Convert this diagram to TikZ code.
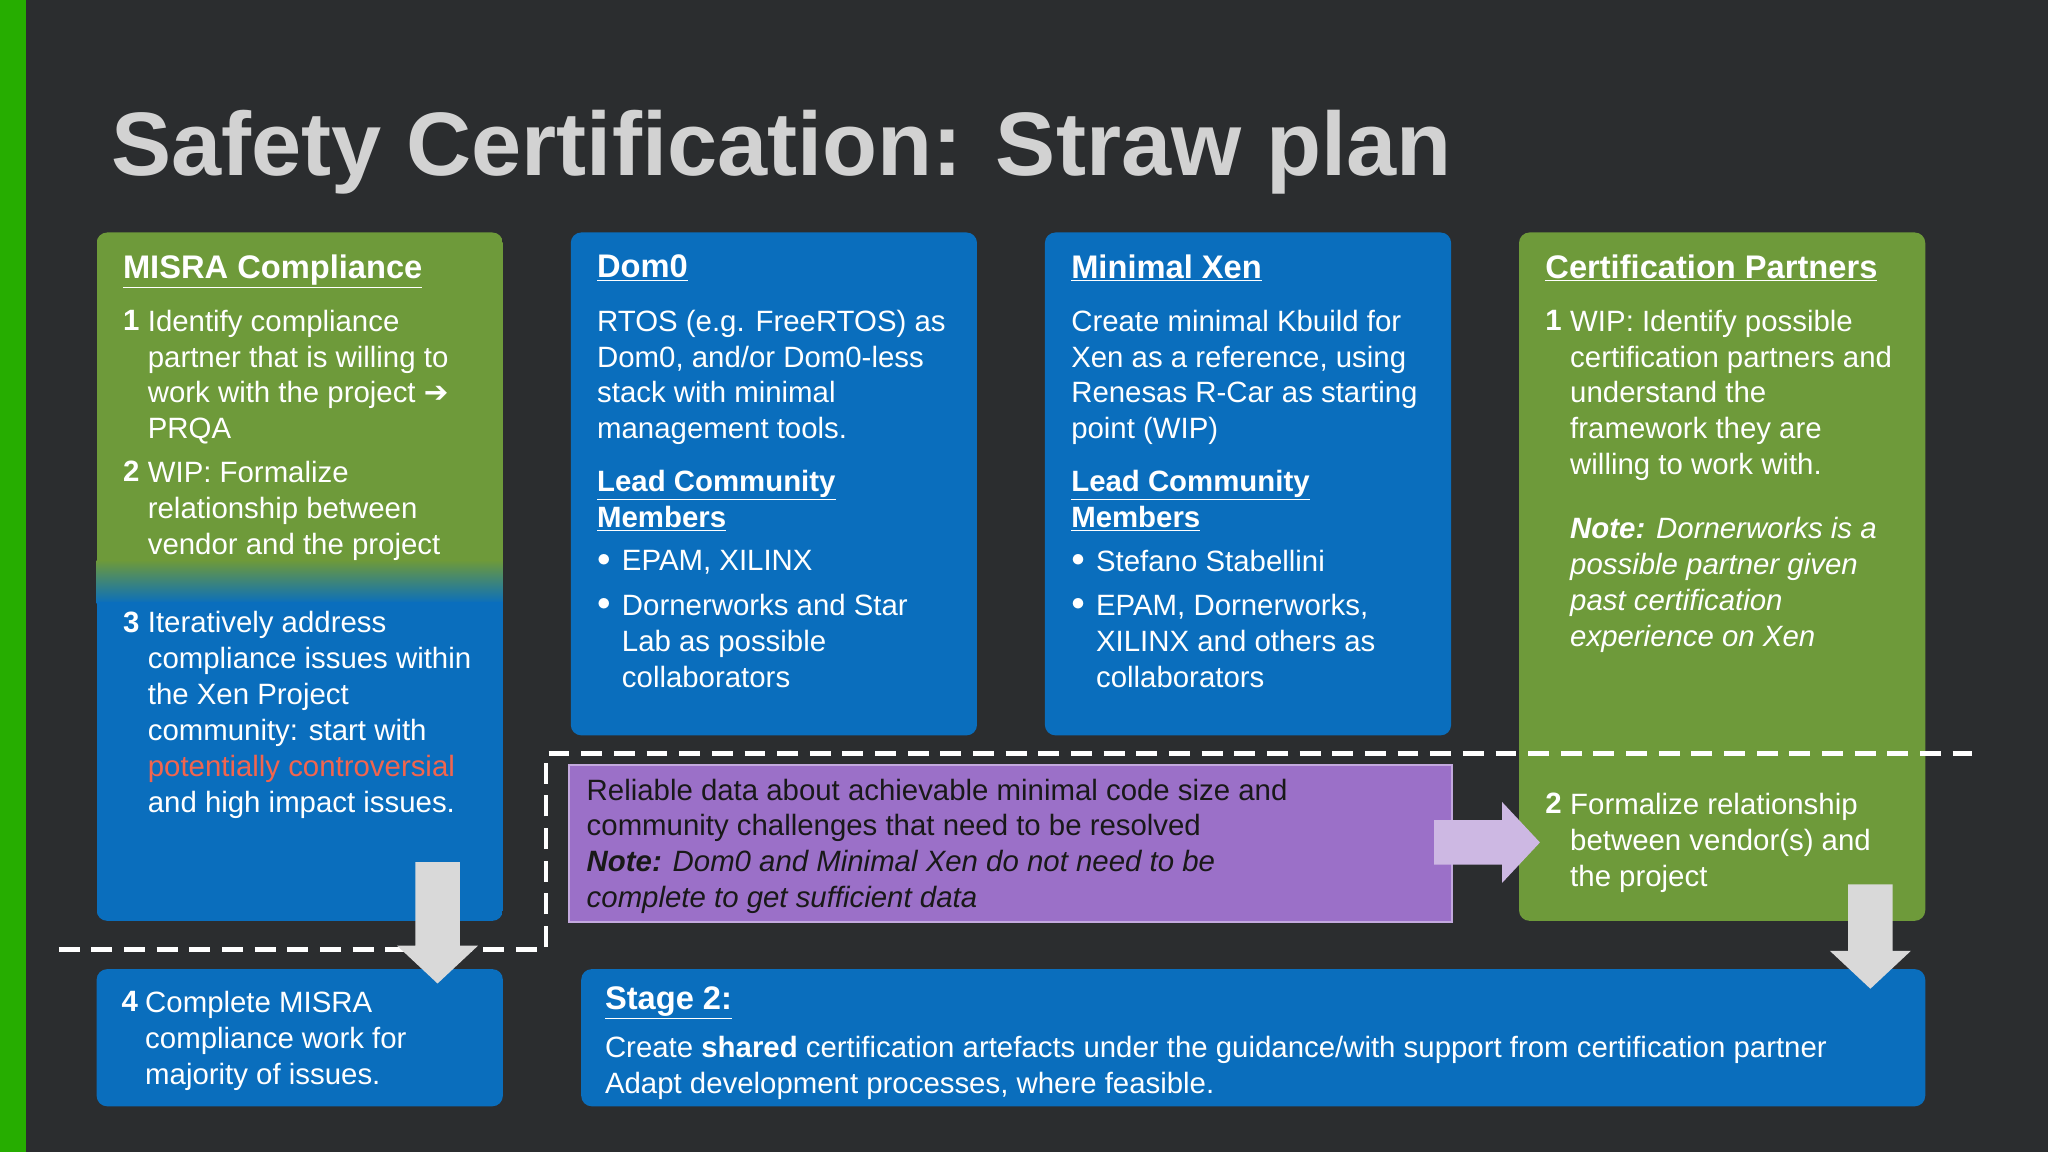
\documentclass[tikz,border=0pt]{standalone}
\usepackage{fontspec}
\setmainfont{Liberation Sans}
\newfontfamily\djv{DejaVu Sans}
\definecolor{bg}{HTML}{2B2D2F}
\definecolor{gr}{HTML}{6E9A3A}
\definecolor{bl}{HTML}{0A6EBD}
\definecolor{pu}{HTML}{9B70C8}
\definecolor{rd}{HTML}{F2654E}
\begin{document}
\begin{tikzpicture}[x=1pt,y=-1pt,
 box/.style={rounded corners=8pt},
 tx/.style={anchor=north west,align=left,inner sep=0pt,text=white,font=\fontsize{22.5}{27.5}\selectfont},
 hd/.style={anchor=north west,inner sep=0pt,text=white,font=\fontsize{25}{28}\selectfont\bfseries},
 sh/.style={anchor=north west,align=left,inner sep=0pt,text=white,font=\fontsize{22.5}{27.5}\selectfont\bfseries}]
\fill[bg] (0,0) rectangle (1568,882);
\fill[green!60!black!80!lime] (0,0) rectangle (20,882);
\node[anchor=base west,inner sep=0pt,text=gray!35,font=\fontsize{69}{72}\selectfont\bfseries] (title) at (85,134) {Safety Certification: Straw plan};
% boxes
\begin{scope}
\clip[box] (74,178) rectangle (385,705);
\fill[gr] (74,178) rectangle (385,430);
\shade[top color=gr,bottom color=bl] (74,429) rectangle (385,462);
\fill[bl] (74,461) rectangle (385,705);
\end{scope}
\fill[bl,box] (437,178) rectangle (748,563);
\fill[bl,box] (800,178) rectangle (1111,563);
\fill[gr,box] (1163,178) rectangle (1474,705);
\fill[pu,draw=pu!60!white,line width=1.5pt] (436,586) rectangle (1112,706);
\fill[bl,box] (74,742) rectangle (385,847);
\fill[bl,box] (445,742) rectangle (1474,847);
% dashed line
\coordinate (d1) at (45,727); \coordinate (d2) at (418,727); \coordinate (d3) at (418,577); \coordinate (d4) at (1510,577);
\draw[white,line width=3.5pt,dash pattern=on 16pt off 9pt] (d1) -- (d2) -- (d3) -- (d4);
% arrows
\fill[gray!30] (318,660) -- (352,660) -- (352,724) -- (366,724) -- (335,753) -- (304,724) -- (318,724) -- cycle;
\fill[gray!30] (1415,677) -- (1449,677) -- (1449,728) -- (1463,728) -- (1432,757) -- (1401,728) -- (1415,728) -- cycle;
\fill[pu!50!white] (1098,628) -- (1150,628) -- (1150,614) -- (1179,645) -- (1150,676) -- (1150,662) -- (1098,662) -- cycle;
% MISRA
\node[hd] (h1) at (94,195) {\underline{MISRA Compliance}};
\node[sh] (n1) at (94,237) {1};
\node[tx] (t1) at (113,237) {Identify compliance\\partner that is willing to\\work with the project {\djv\bfseries ➔}\\PRQA};
\node[sh] (n2) at (94,353) {2};
\node[tx] (t2) at (113,353) {WIP: Formalize\\relationship between\\vendor and the project};
\node[sh] (n3) at (94,468) {3};
\node[tx] (t3) at (113,468) {Iteratively address\\compliance issues within\\the Xen Project\\community: start with\\\textcolor{rd}{potentially controversial}\\and high impact issues.};
% Dom0
\node[hd] (h2) at (457,195) {\underline{Dom0}};
\node[tx] (t4) at (457,237) {RTOS (e.g. FreeRTOS) as\\Dom0, and/or Dom0-less\\stack with minimal\\management tools.};
\node[sh] (s2) at (457,360) {\underline{Lead Community}\\\underline{Members}};
\node[tx] (b21) at (457,424) {$\bullet$};
\node[tx] (t21) at (476,421) {EPAM, XILINX};
\node[tx] (b22) at (457,458) {$\bullet$};
\node[tx] (t22) at (476,455) {Dornerworks and Star\\Lab as possible\\collaborators};
% Minimal Xen
\node[hd] (h3) at (820,195) {\underline{Minimal Xen}};
\node[tx] (t5) at (820,237) {Create minimal Kbuild for\\Xen as a reference, using\\Renesas R-Car as starting\\point (WIP)};
\node[sh] (s3) at (820,360) {\underline{Lead Community}\\\underline{Members}};
\node[tx] (b31) at (820,424) {$\bullet$};
\node[tx] (t31) at (839,421) {Stefano Stabellini};
\node[tx] (b32) at (820,458) {$\bullet$};
\node[tx] (t32) at (839,455) {EPAM, Dornerworks,\\XILINX and others as\\collaborators};
% Cert partners
\node[hd] (h4) at (1183,195) {\underline{Certification Partners}};
\node[sh] (n41) at (1183,237) {1};
\node[tx] (t41) at (1202,237) {WIP: Identify possible\\certification partners and\\understand the\\framework they are\\willing to work with.};
\node[tx,font=\fontsize{22.5}{27.5}\selectfont\itshape] (t42) at (1202,396) {\textbf{Note:} Dornerworks is a\\possible partner given\\past certification\\experience on Xen};
\node[sh] (n42) at (1183,607) {2};
\node[tx] (t43) at (1202,607) {Formalize relationship\\between vendor(s) and\\the project};
% purple
\node[tx,text=black!90] (p) at (449,596) {Reliable data about achievable minimal code size and\\community challenges that need to be resolved\\\textit{\textbf{Note:} Dom0 and Minimal Xen do not need to be}\\\textit{complete to get sufficient data}};
% bottom
\node[sh] (n5) at (93,759) {4};
\node[tx] (t5b) at (111,759) {Complete MISRA\\compliance work for\\majority of issues.};
\node[hd] (h6) at (463,755) {\underline{Stage 2:}};
\node[tx] (t6) at (463,793) {Create \textbf{shared} certification artefacts under the guidance/with support from certification partner\\Adapt development processes, where feasible.};
\end{tikzpicture}
\end{document}
